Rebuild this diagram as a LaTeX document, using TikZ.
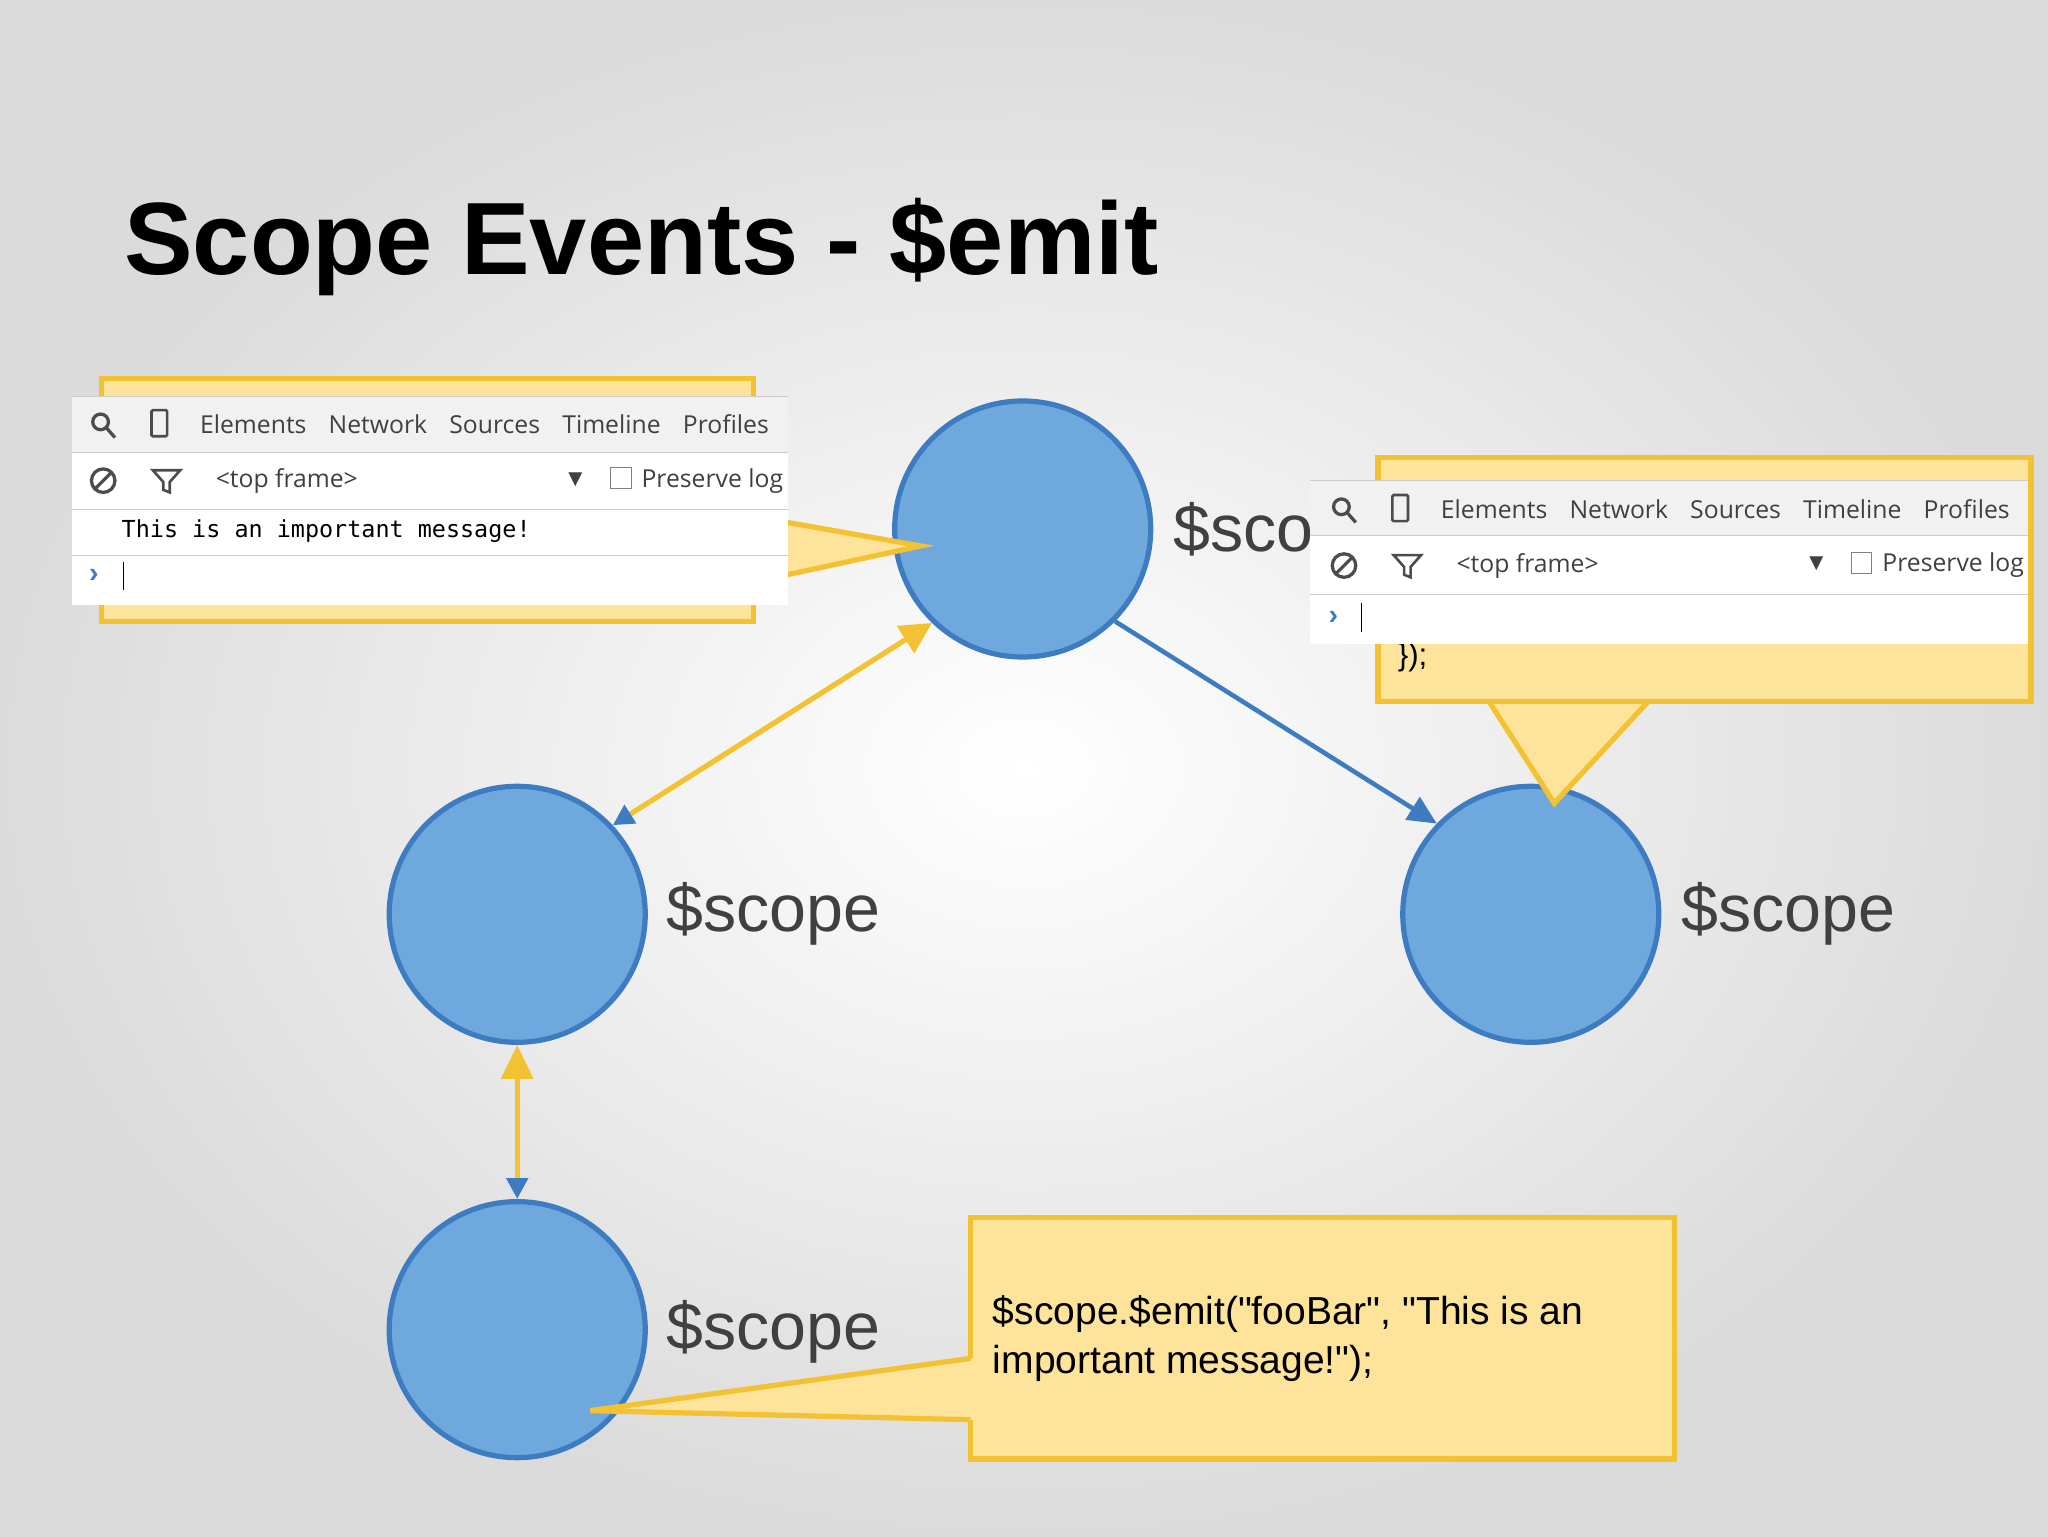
\documentclass[tikz,border=0pt]{standalone}
\usepackage{fontspec}
\setmainfont{Liberation Sans}
\newfontfamily\codefont[Ligatures=ResetAll]{Liberation Sans}
\newfontfamily\uifont{Open Sans}
\newfontfamily\symfont{DejaVu Sans}
\newfontfamily\monofnt{DejaVu Sans Mono}
\usetikzlibrary{arrows.meta}
\definecolor{cfill}{HTML}{6FA8DC}
\definecolor{cedge}{HTML}{3D7CC0}
\definecolor{yel}{HTML}{F2C232}
\definecolor{ylt}{HTML}{FDE49A}
\definecolor{lbl}{HTML}{404040}
\definecolor{tbar}{HTML}{F1F1F1}
\tikzset{
  circ/.style={circle,draw=cedge,fill=cfill,line width=4bp,minimum size=196bp,inner sep=0},
  slbl/.style={anchor=west,text=lbl,font=\fontsize{51}{56}\selectfont,inner sep=0},
  ui/.style={anchor=west,inner sep=0,text=black!75,font=\uifont\fontsize{19}{22}\selectfont},
  call/.style={fill=ylt,draw=yel,line width=4bp},
}
\begin{document}
\begin{tikzpicture}[x=1bp,y=-1bp]
\useasboundingbox (0,0) rectangle (1568,1176);
\shade[inner color=white,outer color=black!14] (0,0) rectangle (1568,1176);
\node[anchor=base west,inner sep=0,font=\bfseries\fontsize{79}{82}\selectfont] (title) at (95,210) {Scope Events - \$emit};

\node[circ] (T) at (783,405) {};
\node[circ] (L) at (396,700) {};
\node[circ] (R) at (1172,700) {};
\node[circ] (B) at (396,1018) {};

\draw[yel,line width=4bp,{Triangle[color=cedge,length=16bp,width=16bp]}-{Triangle[length=24bp,width=24bp]}] (L.43) -- (T.226);
\draw[yel,line width=4bp,{Triangle[color=cedge,length=16bp,width=16bp]}-{Triangle[length=26bp,width=24bp]}] (B.90) -- (L.270);
\draw[cedge,line width=3.5bp,-{Triangle[length=22bp,width=20bp]}] (T.-45) -- (R.136);

\node[slbl] (lt) at (898,405) {\$sco};
\node[slbl] (ll) at (510,700) {\$scope};
\node[slbl] (lr) at (1287,700) {\$scope};
\node[slbl] (lb) at (510,1020) {\$scope};

% bottom callout
\draw[call] (743,932) rectangle (1282,1117);
\fill[ylt] (745,1040) -- (452,1080) -- (745,1087) -- cycle;
\draw[yel,line width=4bp] (743,1040) -- (452,1080) -- (743,1087);
\node[anchor=north west,inner sep=0,align=left,font=\codefont\fontsize{30}{37}\selectfont] (code) at (760,992) {\$scope.\$emit("fooBar", "This is an\\important message!");};

% top-left devtools
\draw[call] (78,290) rectangle (577,476);
\fill[ylt] (603,400) -- (705,418) -- (603,440) -- cycle;
\draw[yel,line width=4bp] (603,400) -- (705,418) -- (603,440);
\fill[white] (55,303) rectangle (603,463);
\fill[tbar] (55,303) rectangle (603,346);
\draw[black!20] (55,303) -- (603,303) (55,346) -- (603,346) (55,390) -- (603,390) (55,425) -- (603,425);
\draw[black!70,line width=2.5bp] (77,323) circle (6) (81,327) -- (88,335);
\draw[black!70,line width=2bp,rounded corners=1] (116,314) rectangle (128,334);
\node[ui] (m1) at (153,325) {Elements\hspace{17bp}Network\hspace{17bp}Sources\hspace{17bp}Timeline\hspace{17bp}Profiles};
\draw[black!70,line width=2.5bp] (79,368) circle (9) (73,374) -- (85,362);
\draw[black!70,line width=2bp] (117,360) -- (138,360) -- (130,369) -- (130,377) -- (125,375) -- (125,369) -- cycle;
\node[ui] (m2) at (165,368) {<top frame>};
\node[anchor=west,inner sep=0,text=black!75,font=\symfont\fontsize{14}{16}\selectfont] (m3) at (435,367) {▼};
\draw[black!50,fill=white] (467,358) rectangle (483,374);
\node[ui] (m4) at (491,368) {Preserve log};
\node[anchor=west,inner sep=0,font=\monofnt\fontsize{18}{20}\selectfont] (msg) at (93,407) {This is an important message!};
\node[anchor=west,inner sep=0,text=cedge,font=\bfseries\fontsize{22}{24}\selectfont] (p1) at (68,441) {›};
\draw[black] (94,430) -- (94,452);

% right devtools
\draw[call] (1055,350) rectangle (1555,537);
\fill[ylt] (1140,539) -- (1190,615) -- (1262,539) -- cycle;
\draw[yel,line width=4bp] (1140,537) -- (1190,615) -- (1262,537);
\node[anchor=west,inner sep=0,font=\fontsize{24}{26}\selectfont] (br) at (1070,503) {\});};
\fill[white] (1003,368) rectangle (1553,493);
\fill[tbar] (1003,368) rectangle (1553,410);
\draw[black!20] (1003,368) -- (1553,368) (1003,410) -- (1553,410) (1003,455) -- (1553,455);
\draw[black!70,line width=2.5bp] (1027,388) circle (6) (1031,392) -- (1038,400);
\draw[black!70,line width=2bp,rounded corners=1] (1066,379) rectangle (1078,399);
\node[ui] (n1) at (1103,390) {Elements\hspace{17bp}Network\hspace{17bp}Sources\hspace{17bp}Timeline\hspace{17bp}Profiles};
\draw[black!70,line width=2.5bp] (1029,433) circle (9) (1023,439) -- (1035,427);
\draw[black!70,line width=2bp] (1067,425) -- (1088,425) -- (1080,434) -- (1080,442) -- (1075,440) -- (1075,434) -- cycle;
\node[ui] (n2) at (1115,433) {<top frame>};
\node[anchor=west,inner sep=0,text=black!75,font=\symfont\fontsize{14}{16}\selectfont] (n3) at (1385,432) {▼};
\draw[black!50,fill=white] (1417,423) rectangle (1433,439);
\node[ui] (n4) at (1441,433) {Preserve log};
\node[anchor=west,inner sep=0,text=cedge,font=\bfseries\fontsize{22}{24}\selectfont] (p2) at (1017,473) {›};
\draw[black] (1042,462) -- (1042,484);
\end{tikzpicture}
\end{document}
